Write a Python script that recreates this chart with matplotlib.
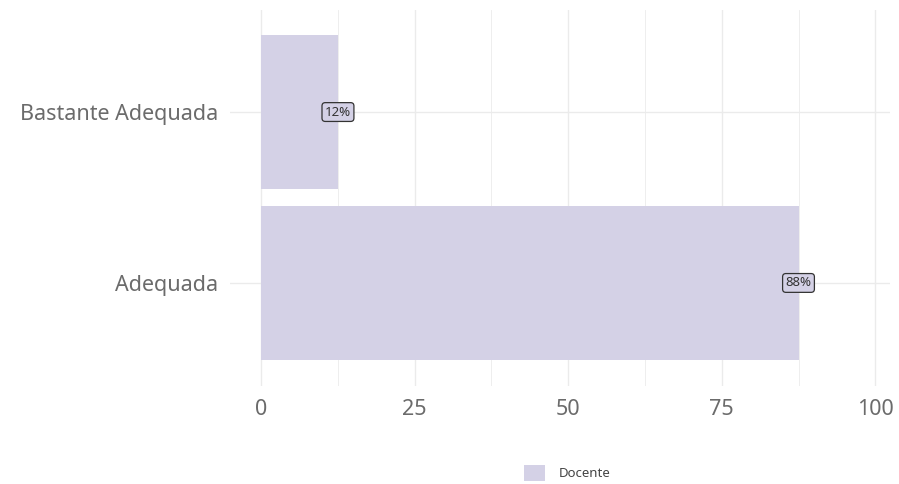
import matplotlib
matplotlib.use("Agg")
import matplotlib.pyplot as plt
from matplotlib.patches import Patch

categories = ["Adequada", "Bastante Adequada"]
values = [87.5, 12.5]
labels = ["88%", "12%"]
series_name = "Docente"
x_ticks = [0, 25, 50, 75, 100]

bar_color = "#D4D1E6"
grid_color = "#EBEBEB"
text_color = "#6B6B6B"

plt.rcParams['font.family'] = ['Noto Sans', 'DejaVu Sans']

W, H = 899, 484
fig = plt.figure(figsize=(W / 100, H / 100), dpi=100)
left, right, top, bottom = 230.5, 890, 9.5, 385.5
ax = fig.add_axes([left / W, 1 - bottom / H, (right - left) / W, (bottom - top) / H])

ypos = list(range(1, len(categories) + 1))
ax.barh(ypos, values, height=0.9, color=bar_color, zorder=2)
for y, v, lab in zip(ypos, values, labels):
    ax.text(v, y, lab, ha="center", va="center", fontsize=9.5, color="#333333", zorder=3,
            bbox=dict(boxstyle="round,pad=0.22,rounding_size=0.25", fc=bar_color, ec="#333333", lw=0.9))

ax.set_xlim(-5, 102.4)
ax.set_ylim(0.4, 2.6)
ax.set_xticks(x_ticks)
ax.set_xticks([12.5, 37.5, 62.5, 87.5], minor=True)
ax.set_xticklabels([str(t) for t in x_ticks])
ax.set_yticks(ypos)
ax.set_yticklabels(categories)
ax.tick_params(axis="both", which="both", length=0, labelsize=15.5, colors=text_color)
ax.tick_params(axis="x", pad=10)
ax.tick_params(axis="y", pad=9)
ax.grid(True, which="major", axis="both", color=grid_color, lw=1.0, zorder=0)
ax.grid(True, which="minor", axis="x", color=grid_color, lw=0.6, zorder=0)
ax.set_axisbelow(True)
for s in ax.spines.values():
    s.set_visible(False)

handles = [Patch(facecolor=bar_color, edgecolor="none", label=series_name)]
fig.legend(handles=handles, loc="center", bbox_to_anchor=(567 / W, 1 - 473 / H), frameon=False,
           fontsize=9.5, handlelength=1.6, handleheight=1.6, handletextpad=1.0, labelcolor="#444444")

fig.savefig("out.png", dpi=100)
